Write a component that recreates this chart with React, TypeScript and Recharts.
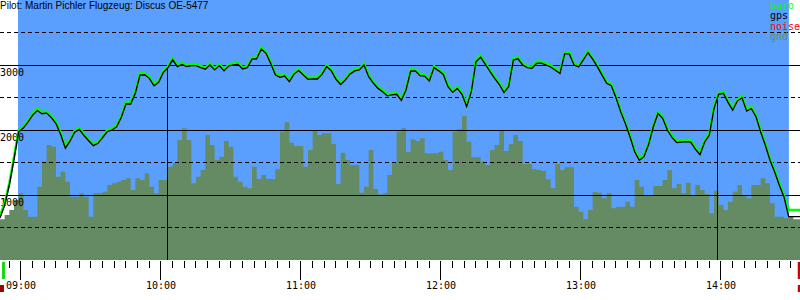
import React from 'react';
import { ComposedChart, Area, Line, XAxis, YAxis, ReferenceLine, ReferenceArea, Legend } from 'recharts';

// time axis: minutes after midnight, one sample every 2 minutes from 08:51
const START_MIN = 531;
const STEP_MIN = 2;
const X_DOMAIN: [number, number] = [531, 873.86];

const BARO = [
  680, 877, 1185, 1585, 2000, 2051, 2144, 2256, 2328, 2282,
  2282, 2215, 2128, 1959, 1754, 1856, 1990, 2036, 1938, 1862,
  1785, 1821, 1908, 2000, 2026, 2077, 2221, 2430, 2426, 2590,
  2872, 2872, 2821, 2703, 2759, 2913, 2985, 3103, 3000, 3036,
  3000, 3015, 3015, 2985, 2959, 3026, 2949, 3015, 2933, 3010,
  3026, 3036, 2964, 2985, 3113, 3118, 3272, 3205, 3051, 2872,
  2836, 2856, 2769, 2887, 2938, 2872, 2805, 2810, 2810, 2882,
  3000, 2933, 2805, 2728, 2795, 2887, 2933, 2949, 3026, 2846,
  2744, 2667, 2615, 2549, 2564, 2574, 2482, 2641, 2933, 2933,
  2862, 2856, 2779, 2985, 2933, 2882, 2692, 2605, 2667, 2574,
  2385, 2615, 3077, 3144, 3036, 2923, 2821, 2728, 2600, 2692,
  3103, 3118, 3026, 2985, 2974, 3051, 3056, 3026, 2995, 2944,
  2897, 3195, 3195, 3026, 2995, 3103, 3216, 3113, 3000, 2872,
  2744, 2708, 2523, 2308, 2128, 1923, 1692, 1564, 1615, 1805,
  2077, 2282, 2205, 2026, 1913, 1831, 1846, 1846, 1846, 1733,
  1651, 1846, 1949, 2359, 2574, 2590, 2451, 2333, 2472, 2523,
  2318, 2359, 2231, 2000, 1795, 1564, 1385, 1180, 1000, 769,
  769, 769, 769,
];

const GPS = [
  646, 840, 1150, 1545, 1970, 2030, 2120, 2230, 2300, 2250,
  2260, 2190, 2100, 1930, 1720, 1830, 1965, 2010, 1915, 1835,
  1760, 1795, 1885, 1975, 2000, 2050, 2195, 2400, 2400, 2565,
  2845, 2850, 2795, 2680, 2735, 2885, 2960, 3080, 2975, 3010,
  2975, 2990, 2990, 2960, 2935, 3000, 2925, 2990, 2910, 2985,
  3000, 3010, 2940, 2960, 3090, 3095, 3245, 3180, 3025, 2850,
  2810, 2830, 2745, 2860, 2915, 2845, 2780, 2785, 2785, 2855,
  2975, 2910, 2780, 2700, 2770, 2860, 2910, 2925, 3000, 2820,
  2720, 2640, 2590, 2525, 2540, 2550, 2455, 2615, 2905, 2910,
  2835, 2830, 2755, 2960, 2910, 2855, 2665, 2580, 2640, 2550,
  2360, 2590, 3050, 3120, 3010, 2900, 2795, 2700, 2575, 2665,
  3075, 3095, 3000, 2960, 2950, 3025, 3030, 3000, 2970, 2920,
  2870, 3170, 3170, 3000, 2970, 3080, 3190, 3090, 2975, 2845,
  2720, 2680, 2495, 2280, 2100, 1895, 1665, 1535, 1590, 1780,
  2050, 2255, 2180, 2000, 1885, 1805, 1815, 1820, 1815, 1705,
  1620, 1815, 1920, 2330, 2550, 2565, 2425, 2305, 2445, 2495,
  2290, 2330, 2205, 1970, 1765, 1535, 1355, 1150, 970, 667,
  667, 667, 667,
];

const GND = [
  626, 692, 769, 923, 1026, 769, 667, 667, 1128, 1513,
  1769, 1744, 1282, 1359, 1205, 974, 974, 1026, 974, 667,
  1026, 1026, 1051, 1154, 1180, 1205, 1231, 1256, 1077, 1256,
  1231, 1333, 1128, 1026, 1231, 1231, 1436, 1487, 1846, 2026,
  1846, 1180, 1282, 1385, 1923, 1769, 1538, 1590, 1831, 1744,
  1282, 1205, 1128, 1103, 1436, 1246, 1308, 1246, 1246, 1395,
  1974, 2118, 1805, 1754, 1754, 1436, 1692, 1985, 1923, 1949,
  1949, 1785, 1169, 1651, 1538, 1462, 1462, 1036, 1128, 1692,
  1092, 1010, 1026, 1308, 1487, 1974, 2026, 1662, 1856, 1831,
  1872, 1641, 1641, 1641, 1667, 1538, 1385, 1974, 2010, 2215,
  1821, 1580, 1580, 1513, 1462, 1692, 1769, 1985, 1677, 1785,
  1923, 1831, 1477, 1477, 1395, 1385, 1369, 1241, 1103, 1477,
  1385, 1426, 1426, 821, 744, 626, 769, 1046, 1036, 949,
  1026, 795, 821, 821, 897, 821, 1231, 1128, 1000, 1000,
  1138, 1138, 1231, 1385, 1103, 1169, 1026, 1190, 1000, 1154,
  1077, 1015, 718, 1067, 846, 769, 897, 1051, 1154, 1000,
  949, 1154, 1154, 1256, 1180, 872, 667, 667, 641, 667,
  626, 626, 626,
];

// altitude grid
const SOLID_LEVELS = [1000, 2000, 3000];
const DASHED_LEVELS = [500, 1500, 2500, 3500];

// x-axis ticks every 5 minutes, labels on the hour
const TICK_FIRST = 535;
const TICK_LAST = 870;
const TICK_STEP = 5;

// background (logger recording span), task start / finish
const BG_SPAN = [538.7, 869.1];
const TASK_MARKS = [
  { t: 602.6, alt: 3000 },
  { t: 838.4, alt: 2510 },
];
// takeoff / landing markers below the time axis
const TAKEOFF = [531.9, 533.1];
const LANDING = [872.9, 873.9];

const TITLE = 'Pilot: Martin Pichler Flugzeug: Discus OE-5477';
const LEGEND_NAMES = ['baro', 'gps', 'noise', 'gnd'];
const LEGEND_COLORS = ['#00ff00', '#000000', '#ff0000', '#658b64'];

const data = BARO.map((b, i) => ({
  t: START_MIN + STEP_MIN * i,
  baro: b,
  gps: GPS[i] ?? null,
  gnd: GND[i] ?? null,
}));

const TICKS: number[] = [];
for (let m = TICK_FIRST; m <= TICK_LAST; m += TICK_STEP) TICKS.push(m);

const fmt = (m: number) => {
  const h = Math.floor(m / 60);
  const mm = Math.round(m % 60);
  return `${String(h).padStart(2, '0')}:${String(mm).padStart(2, '0')}`;
};

const MONO = '"DejaVu Sans Mono", monospace';

const TimeTick = (props: any) => {
  const { x, y, payload } = props;
  const v = payload.value;
  const major = v % 60 === 0;
  return (
    <g>
      <line x1={x} x2={x} y1={y + 1} y2={y + (major ? 20 : 8)} stroke="#000" strokeWidth={1} shapeRendering="crispEdges" />
      {major && (
        <text x={x} y={y + 29} textAnchor="middle" fontFamily={MONO} fontSize={10} fill="#000">
          {fmt(v)}
        </text>
      )}
    </g>
  );
};

const levelLabel = (value: number) => (props: any) => {
  const vb = props.viewBox || {};
  return (
    <text x={0} y={(vb.y ?? 0) + 11} fontFamily={MONO} fontSize={10} fill="#000">
      {String(value)}
    </text>
  );
};

const LegendContent = () => (
  <div style={{ position: 'relative', width: 800, height: 0 }}>
    <div
      style={{
        position: 'absolute', left: 0, top: 0, whiteSpace: 'nowrap',
        fontFamily: '"Liberation Sans", Arial, sans-serif', fontSize: 10, lineHeight: '11px', color: '#000',
      }}
    >
      {TITLE}
    </div>
    <div style={{ position: 'absolute', left: 770, top: 1, fontFamily: MONO, fontSize: 10, lineHeight: '10.3px' }}>
      {LEGEND_NAMES.map((n, i) => (
        <div key={n} style={{ color: LEGEND_COLORS[i] }}>{n}</div>
      ))}
    </div>
  </div>
);

export default function App() {
  return (
    <div style={{ position: 'absolute', left: 0, top: 0, width: 800, height: 300, background: '#fff' }}>
      <ComposedChart width={800} height={300} data={data} margin={{ top: 0, right: 0, bottom: 0, left: 0 }}>
        <XAxis
          dataKey="t" type="number" domain={X_DOMAIN} ticks={TICKS} interval={0}
          tickLine={false} axisLine={false} tickSize={0} tickMargin={0} height={40}
          tick={<TimeTick />} allowDataOverflow
        />
        <YAxis hide type="number" domain={[0, 4000]} allowDataOverflow />
        <ReferenceArea
          x1={BG_SPAN[0]} x2={BG_SPAN[1]} y1={0} y2={4000}
          fill="#5a9ffe" fillOpacity={1} stroke="none" ifOverflow="hidden" zIndex={-150}
        />
        <Area
          dataKey="gnd" type="stepAfter" fill="#658b64" fillOpacity={1} stroke="none"
          isAnimationActive={false} baseValue={0} dot={false} activeDot={false} zIndex={100}
        />
        {DASHED_LEVELS.map((v) => (
          <ReferenceLine key={'d' + v} y={v} stroke="#000" strokeWidth={1} strokeDasharray="4 3" shapeRendering="crispEdges" zIndex={300} />
        ))}
        {SOLID_LEVELS.map((v) => (
          <ReferenceLine key={'s' + v} y={v} stroke="#000" strokeWidth={1} shapeRendering="crispEdges" label={levelLabel(v)} zIndex={300} />
        ))}
        {TASK_MARKS.map((m) => (
          <ReferenceLine
            key={'m' + m.t}
            segment={[{ x: m.t, y: 0 }, { x: m.t, y: m.alt }]}
            stroke="#000" strokeWidth={1} shapeRendering="crispEdges" zIndex={300}
          />
        ))}
        <Line
          dataKey="baro" type="linear" stroke="#00ff00" strokeWidth={2.4} dot={false} activeDot={false}
          isAnimationActive={false} zIndex={400}
        />
        <Line
          dataKey="gps" type="linear" stroke="#000000" strokeWidth={1.3} dot={false} activeDot={false}
          isAnimationActive={false} zIndex={410}
        />
        <ReferenceArea x1={TAKEOFF[0]} x2={TAKEOFF[1]} y1={-31} y2={-292} fill="#00dd00" fillOpacity={1} stroke="none" ifOverflow="visible" zIndex={500} />
        <ReferenceArea x1={531} x2={532.7} y1={-385} y2={-492} fill="#a00000" fillOpacity={1} stroke="none" ifOverflow="visible" zIndex={500} />
        <ReferenceArea x1={LANDING[0]} x2={LANDING[1]} y1={-31} y2={-292} fill="#cc0000" fillOpacity={1} stroke="none" ifOverflow="visible" zIndex={500} />
        <ReferenceArea x1={LANDING[0]} x2={LANDING[1]} y1={-385} y2={-492} fill="#cc0000" fillOpacity={1} stroke="none" ifOverflow="visible" zIndex={500} />
        <Legend
          layout="horizontal" verticalAlign="middle" align="center"
          wrapperStyle={{ left: 0, top: 0, width: 800, height: 0 }}
          content={<LegendContent />}
        />
      </ComposedChart>
    </div>
  );
}
